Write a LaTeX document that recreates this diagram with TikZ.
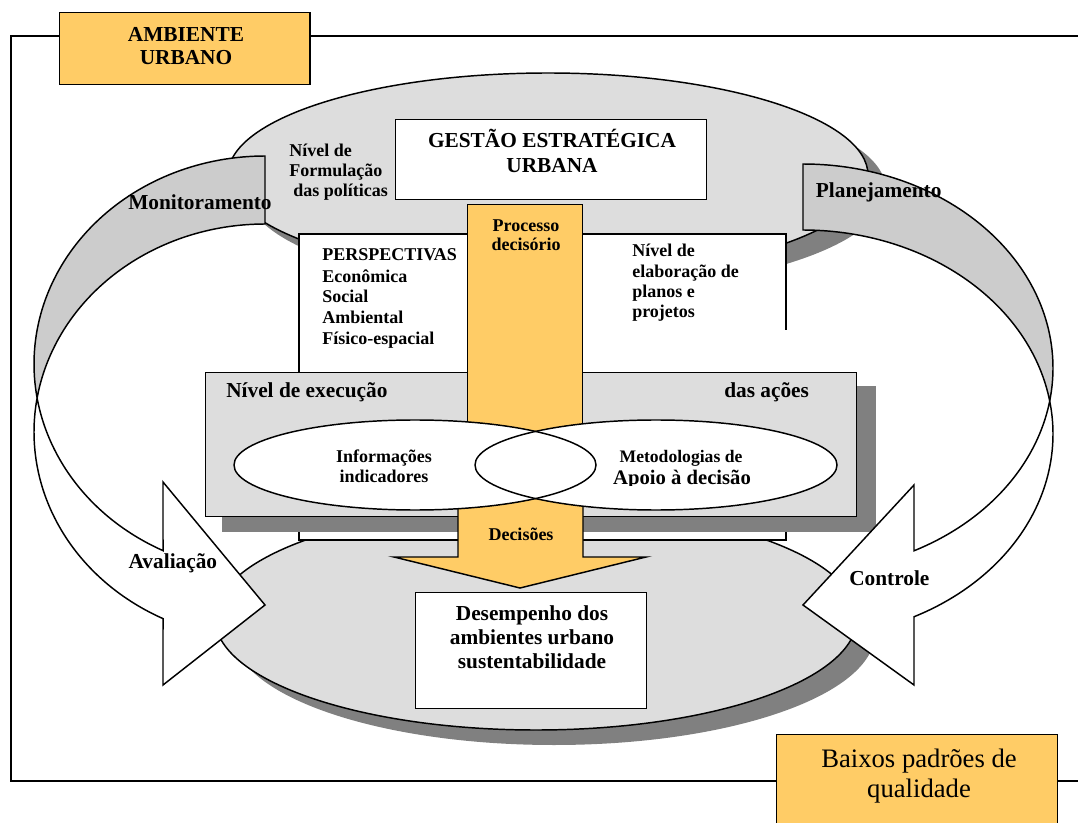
\documentclass[tikz,border=0pt]{standalone}
\usepackage{fontspec}
\setmainfont{Liberation Serif}
\usetikzlibrary{shapes.geometric}
\definecolor{orng}{HTML}{FFCC66}
\definecolor{lgray}{HTML}{DDDDDD}
\definecolor{mgray}{HTML}{CCCCCC}
\definecolor{dgray}{HTML}{808080}
\tikzset{
  outline/.style={draw=black, line width=1.1pt},
  plainbox/.style={outline, rectangle, inner sep=0pt, anchor=north west},
  ovalshape/.style={ellipse, inner sep=0pt, outer sep=0pt},
  bigtxt/.style={font=\bfseries\fontsize{16}{19}\selectfont, inner sep=0pt},
  smalltxt/.style={font=\bfseries\fontsize{13.5}{15.5}\selectfont, inner sep=0pt},
}
\begin{document}
\begin{tikzpicture}[x=0.75pt, y=-0.75pt]
\useasboundingbox (0,0) rectangle (1078,823);
\fill[white] (0,0) rectangle (1078,823);

% outer frame of the urban environment
\draw[outline] (1078,36) -- (11,36) -- (11,781) -- (1078,781);

% lower oval (performance level) with its shadow
\node[ovalshape, fill=dgray, minimum width=481.5pt, minimum height=168pt] (botEllShadow) at (554,633) {};
\node[ovalshape, outline, fill=lgray, minimum width=481.5pt, minimum height=168pt] (botEll) at (536,618) {};

% upper oval (policy formulation level) with its shadow
\node[ovalshape, fill=dgray, minimum width=480pt, minimum height=153pt] (topEllShadow) at (566,190) {};
\node[ovalshape, outline, fill=lgray, minimum width=480pt, minimum height=153pt] (topEll) at (548,175) {};

% white panel behind the perspectives and plans
\fill[white] (299,234) rectangle (786,540);
\draw[outline] (786,330) -- (786,234) -- (299,234) -- (299,540) -- (786,540) -- (786,514);

% strategic management box
\node[plainbox, fill=white, minimum width=233.25pt, minimum height=60pt] (gestBox) at (395,119) {};

% execution level panel with its shadow
\node[rectangle, inner sep=0pt, anchor=north west, fill=dgray, minimum width=490.5pt, minimum height=109.5pt] (execShadow) at (222,386) {};
\node[plainbox, fill=lgray, minimum width=488.25pt, minimum height=108pt] (execBox) at (205,372) {};

% decision process bar and decisions arrow
\node[plainbox, fill=orng, minimum width=86.25pt, minimum height=199.5pt] (procBar) at (467,204) {};
\filldraw[outline, fill=orng] (458,450) -- (458,557) -- (394,557) -- (520,588) -- (646,557) -- (583,557) -- (583,450) -- cycle;

% overlapping ovals: information and methodologies
\node[ovalshape, fill=white, minimum width=271.5pt, minimum height=67.5pt] (infoEll) at (415,465) {};
\node[ovalshape, fill=white, minimum width=271.5pt, minimum height=67.5pt] (metEll) at (656,465) {};
\node[ovalshape, outline, minimum width=271.5pt, minimum height=67.5pt] (infoEllLine) at (415,465) {};
\node[ovalshape, outline, minimum width=271.5pt, minimum height=67.5pt] (metEllLine) at (656,465) {};

% performance box
\node[plainbox, fill=white, minimum width=173.25pt, minimum height=87pt] (desBox) at (415,592) {};

% left curved arrow: back band (monitoring) and front band with head (evaluation)
\filldraw[outline, fill=mgray]
  plot[domain=270:170.59, samples=70, variable=\t] ({265+231*cos(\t)}, {364+208*sin(\t)})
  -- plot[domain=189.41:270, samples=70, variable=\t] ({265+231*cos(\t)}, {432+208*sin(\t)})
  -- cycle;
\filldraw[outline, fill=white]
  plot[domain=189.41:116.2, samples=70, variable=\t] ({265+231*cos(\t)}, {432+208*sin(\t)})
  -- (163,685) -- (265,605) -- (163,482)
  -- plot[domain=116.2:170.59, samples=70, variable=\t] ({265+231*cos(\t)}, {364+208*sin(\t)})
  -- cycle;

% right curved arrow: back band (planning) and front band with head (control)
\filldraw[outline, fill=mgray]
  plot[domain=-90:9.31, samples=70, variable=\t] ({803+250*cos(\t)}, {368+204*sin(\t)})
  -- plot[domain=-9.31:-90, samples=70, variable=\t] ({803+250*cos(\t)}, {434+204*sin(\t)})
  -- cycle;
\filldraw[outline, fill=white]
  plot[domain=-9.31:63.64, samples=70, variable=\t] ({803+250*cos(\t)}, {434+204*sin(\t)})
  -- (914,685) -- (803,605) -- (914,485)
  -- plot[domain=63.64:9.31, samples=70, variable=\t] ({803+250*cos(\t)}, {368+204*sin(\t)})
  -- cycle;

% title boxes
\node[plainbox, fill=orng, minimum width=187.9pt, minimum height=54pt] (ambBox) at (58.5,12) {};
\node[plainbox, fill=orng, minimum width=210.75pt, minimum height=82pt] (baixBox) at (776,734) {};

% texts (multi-line nodes are placed by the baseline of their last line)
\node[bigtxt, align=center, anchor=base, font=\bfseries\fontsize{16}{17.25}\selectfont] (tAmb) at (186,65) {AMBIENTE\\URBANO};
\node[bigtxt, align=center, anchor=base, font=\bfseries\fontsize{16}{18.75}\selectfont] (tGest) at (552,173) {GESTÃO ESTRATÉGICA\\URBANA};
\node[smalltxt, align=left, anchor=base west, font=\bfseries\fontsize{13.5}{15}\selectfont] (tForm) at (289,197) {Nível de\\Formulação\\\hspace*{3pt}das políticas};
\node[bigtxt, anchor=base west] (tMon) at (128,210) {Monitoramento};
\node[bigtxt, anchor=base west] (tPlan) at (815.6,198) {Planejamento};
\node[smalltxt, align=left, anchor=base west, font=\bfseries\fontsize{13.5}{15.75}\selectfont] (tPersp) at (322,345) {PERSPECTIVAS\\Econômica\\Social\\Ambiental\\Físico-espacial};
\node[smalltxt, align=center, anchor=base, font=\bfseries\fontsize{13.5}{14.25}\selectfont] (tProc) at (526,251) {Processo\\decisório};
\node[smalltxt, align=left, anchor=base west, font=\bfseries\fontsize{13.5}{15.25}\selectfont] (tElab) at (632,318) {Nível de\\elaboração de\\planos e\\projetos};
\node[bigtxt, anchor=base west] (tExec) at (226,398) {Nível de execução};
\node[bigtxt, anchor=base west] (tAcoes) at (724,398) {das ações};
\node[smalltxt, align=center, anchor=base, font=\bfseries\fontsize{13.5}{15}\selectfont] (tInfo) at (384,482) {Informações\\indicadores};
\node[inner sep=0pt, anchor=base, font=\bfseries\fontsize{13.2}{15}\selectfont] (tMet) at (681,462) {Metodologias de};
\begin{scope}
  \clip (550,466) rectangle (820,485.5);
  \node[inner sep=0pt, anchor=base, font=\bfseries\fontsize{15.5}{18}\selectfont] (tApoio) at (682,484) {Apoio à decisão};
\end{scope}
\node[smalltxt, anchor=base] (tDec) at (521,540) {Decisões};
\node[bigtxt, anchor=base west] (tAval) at (128.4,568) {Avaliação};
\node[bigtxt, anchor=base west] (tCtrl) at (849,585) {Controle};
\node[bigtxt, align=center, anchor=base, font=\bfseries\fontsize{16}{18}\selectfont] (tDes) at (532,668) {Desempenho dos\\ambientes urbano\\sustentabilidade};
\node[inner sep=0pt, align=center, anchor=base, font=\fontsize{20}{22.5}\selectfont] (tBaixos) at (919,797) {Baixos padrões de\\qualidade};
\end{tikzpicture}
\end{document}
